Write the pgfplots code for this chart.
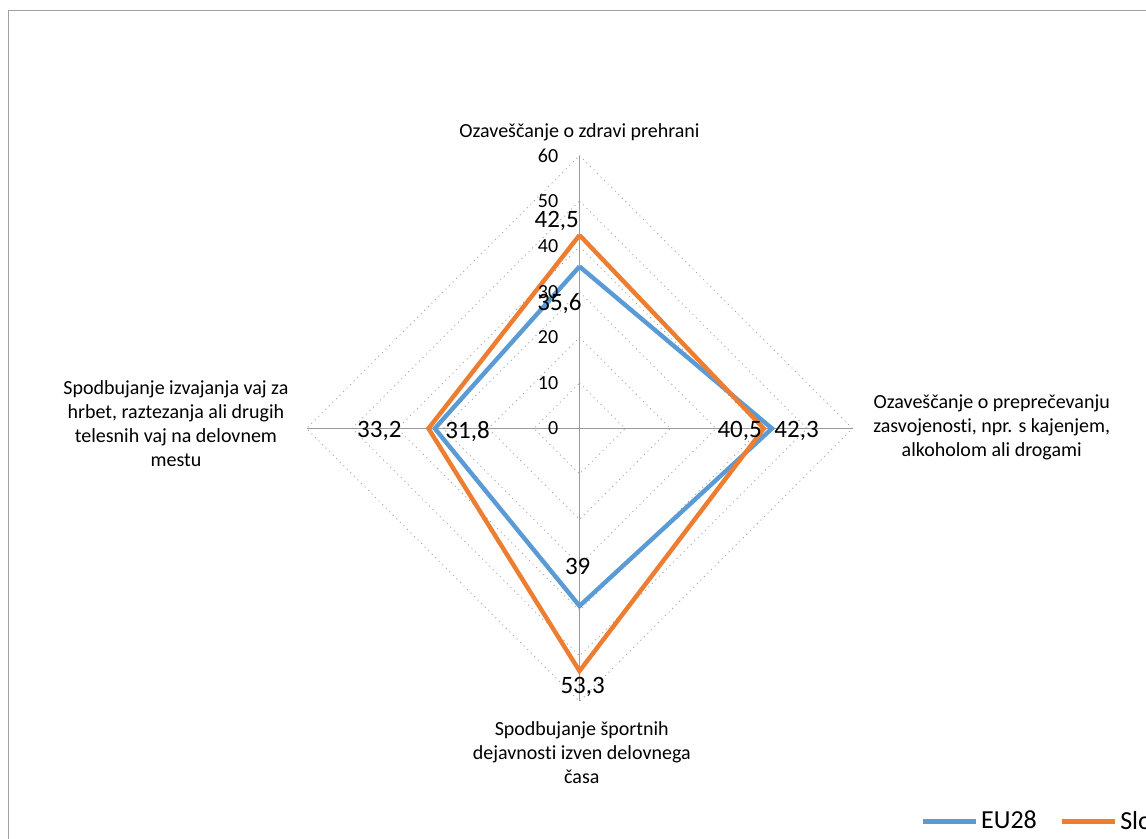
\documentclass[border=0pt]{standalone}
\usepackage{pgfplots}
\pgfplotsset{compat=1.18}
\usepackage{fontspec}
\setmainfont{Carlito}[Ligatures={NoCommon}]
\definecolor{eublue}{HTML}{5B9BD5}
\definecolor{sloorange}{HTML}{ED7D31}
\definecolor{gridgray}{HTML}{A6A6A6}
\definecolor{spokegray}{HTML}{9A9A9A}
\definecolor{framegray}{HTML}{A0A0A0}
\begin{document}
\begin{tikzpicture}[x=0.5pt,y=0.5pt]
\useasboundingbox (0,0) rectangle (1146,-839);
\clip (0,0) rectangle (1146,-839);
\draw[framegray, line width=0.75pt] (8.5,-10.5) rectangle (1160,-860);
\begin{axis}[
  at={(289.75pt,-214.25pt)}, anchor=center,
  x=2.275pt, y=2.275pt,
  xmin=-70, xmax=70, ymin=-70, ymax=70,
  hide axis, clip=false,
  legend columns=2,
  legend style={draw=none, fill=none, at={(axis cs:75.0,-86.4)}, anchor=west,
    inner sep=0pt, outer sep=0pt, font=\fontsize{13}{15}\selectfont,
    /tikz/every even column/.append style={column sep=10pt},
    nodes={inner sep=1.5pt}},
  legend image code/.code={\draw[#1, line width=2.2pt] (0pt,0pt) -- (26.5pt,0pt);},
  every node/.append style={font=\fontsize{10.4}{12.5}\selectfont},
]
% grid diamonds
\addplot[forget plot, gridgray, dotted, line width=0.5pt] coordinates {(0,10) (10,0) (0,-10) (-10,0) (0,10)};
\addplot[forget plot, gridgray, dotted, line width=0.5pt] coordinates {(0,20) (20,0) (0,-20) (-20,0) (0,20)};
\addplot[forget plot, gridgray, dotted, line width=0.5pt] coordinates {(0,30) (30,0) (0,-30) (-30,0) (0,30)};
\addplot[forget plot, gridgray, dotted, line width=0.5pt] coordinates {(0,40) (40,0) (0,-40) (-40,0) (0,40)};
\addplot[forget plot, gridgray, dotted, line width=0.5pt] coordinates {(0,50) (50,0) (0,-50) (-50,0) (0,50)};
\addplot[forget plot, gridgray, dotted, line width=0.5pt] coordinates {(0,60) (60,0) (0,-60) (-60,0) (0,60)};
% spokes
\addplot[forget plot, spokegray, line width=0.75pt] coordinates {(0,60) (0,-60)};
\addplot[forget plot, spokegray, line width=0.75pt] coordinates {(-60,0) (60,0)};
% data
\addplot[eublue, line width=2.2pt] coordinates {(0,35.6) (42.3,0) (0,-39) (-31.8,0) (0,35.6)};
\addlegendentry{EU28}
\addplot[sloorange, line width=2.2pt] coordinates {(0,42.5) (40.5,0) (0,-53.3) (-33.2,0) (0,42.5)};
\addlegendentry{Slovenija}
% tick labels
\node[anchor=east, inner sep=0pt] at (axis cs:-4.6,0) {0};
\node[anchor=east, inner sep=0pt] at (axis cs:-4.6,10) {10};
\node[anchor=east, inner sep=0pt] at (axis cs:-4.6,20) {20};
\node[anchor=east, inner sep=0pt] at (axis cs:-4.6,30) {30};
\node[anchor=east, inner sep=0pt] at (axis cs:-4.6,40) {40};
\node[anchor=east, inner sep=0pt] at (axis cs:-4.6,50) {50};
\node[anchor=east, inner sep=0pt] at (axis cs:-4.6,60) {60};
% data labels
\begin{scope}[every node/.style={font=\fontsize{12.5}{15}\selectfont, inner sep=0pt}]
\node at (axis cs:-5.0,45.5) {42,5};
\node at (axis cs:-4.4,27.5) {35,6};
\node at (axis cs:35.2,-0.6) {40,5};
\node at (axis cs:47.7,-0.6) {42,3};
\node at (axis cs:-0.4,-30.3) {39};
\node at (axis cs:0.7,-56.9) {53,3};
\node at (axis cs:-44.0,-0.6) {33,2};
\node at (axis cs:-24.6,-0.6) {31,8};
\end{scope}
% category labels
\node[align=center] at (axis cs:0,65.2) {Ozaveščanje o zdravi prehrani};
\node[align=center] at (axis cs:90.6,0.3) {Ozaveščanje o preprečevanju\\zasvojenosti, npr. s kajenjem,\\alkoholom ali drogami};
\node[align=center] at (axis cs:-88.7,1.0) {Spodbujanje izvajanja vaj za\\hrbet, raztezanja ali drugih\\telesnih vaj na delovnem\\mestu};
\node[align=center] at (axis cs:0.5,-71.3) {Spodbujanje športnih\\dejavnosti izven delovnega\\časa};
\end{axis}
\end{tikzpicture}
\end{document}
